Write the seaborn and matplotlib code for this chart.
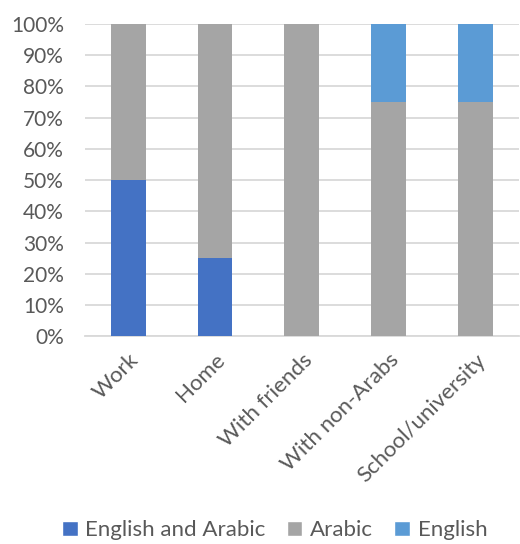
import matplotlib
matplotlib.use("Agg")
import matplotlib.pyplot as plt
import seaborn as sns
import pandas as pd
import numpy as np
from matplotlib.patches import Patch
from matplotlib.ticker import PercentFormatter

categories = ["Work", "Home", "With friends", "With non-Arabs", "School/university"]
eng_arabic = [0.50, 0.25, 0.0, 0.0, 0.0]
arabic = [0.50, 0.75, 1.0, 0.75, 0.75]
english = [0.0, 0.0, 0.0, 0.25, 0.25]

series = ["English and Arabic", "Arabic", "English"]
colors = {"English and Arabic": "#4472C4", "Arabic": "#A5A5A5", "English": "#5B9BD5"}
text_color = "#595959"
grid_color = "#D9D9D9"

sns.set_style("white")
plt.rcParams["font.family"] = ["Lato", "DejaVu Sans"]

df = pd.DataFrame({"category": categories, "English and Arabic": eng_arabic,
                   "Arabic": arabic, "English": english})
# cumulative tops for stacking, drawn from the top segment down
df["top_English and Arabic"] = df["English and Arabic"]
df["top_Arabic"] = df["top_English and Arabic"] + df["Arabic"]
df["top_English"] = df["top_Arabic"] + df["English"]

fig = plt.figure(figsize=(5.2, 5.44), dpi=100)
ax = fig.add_axes([0.163, 0.382, 0.835, 0.574])

for s in reversed(series):
    sns.barplot(data=df, x="category", y=f"top_{s}", color=colors[s],
                width=0.4, ax=ax, saturation=1, zorder=3, linewidth=0)

ax.set_ylim(0, 1)
ax.set_xlim(-0.5, 4.5)
ax.set_yticks(np.arange(0, 1.01, 0.1))
ax.yaxis.set_major_formatter(PercentFormatter(1.0, decimals=0))
ax.grid(axis="y", color=grid_color, linewidth=1.3, zorder=0)
ax.set_axisbelow(True)
for sp in ["top", "right", "left"]:
    ax.spines[sp].set_visible(False)
ax.spines["bottom"].set_color(grid_color)
ax.spines["bottom"].set_linewidth(1.3)
ax.tick_params(axis="y", length=0, colors=text_color, labelsize=15, pad=15)
ax.tick_params(axis="x", length=0, colors=text_color, labelsize=16, pad=10)
ax.set_xlabel("")
ax.set_ylabel("")
plt.setp(ax.get_xticklabels(), rotation=45, ha="right", rotation_mode="anchor")

handles = [Patch(facecolor=colors[s], label=s) for s in series]
fig.legend(handles=handles, loc="center", bbox_to_anchor=(0.528, 0.025), ncol=3,
           frameon=False, fontsize=16, labelcolor=text_color, handlelength=0.7,
           handleheight=0.7, handletextpad=0.35, columnspacing=0.95)

fig.savefig("out.png", dpi=100)
